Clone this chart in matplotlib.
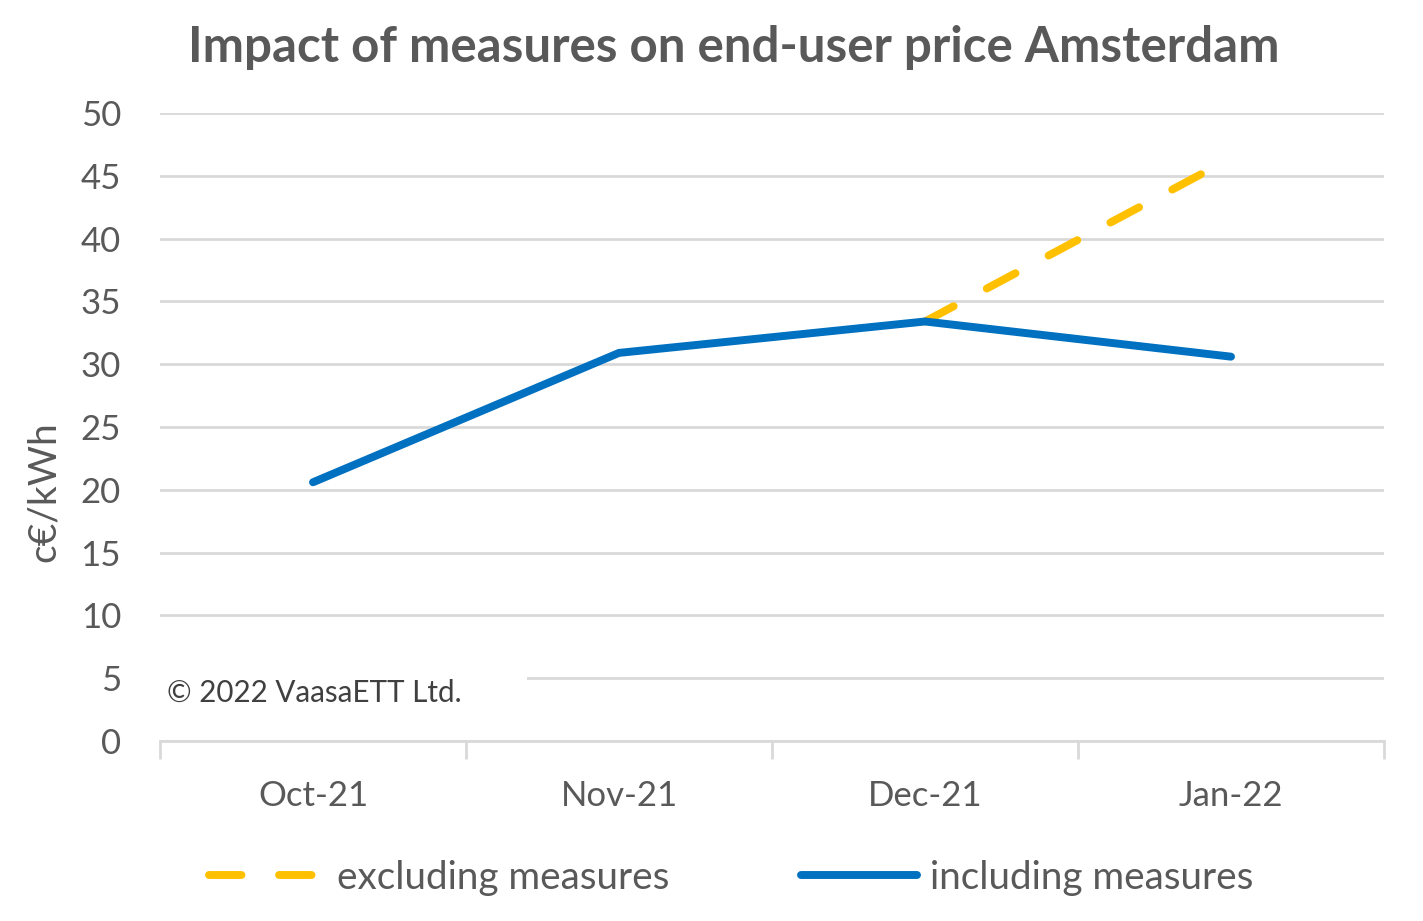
import matplotlib
matplotlib.use("Agg")
import matplotlib.pyplot as plt
from matplotlib.patches import Rectangle
from matplotlib.lines import Line2D

months = ["Oct-21", "Nov-21", "Dec-21", "Jan-22"]
including = [20.6, 30.9, 33.4, 30.6]
excluding = [None, None, 33.4, 46.4]
yticks = [0, 5, 10, 15, 20, 25, 30, 35, 40, 45, 50]

plt.rcParams['font.family'] = ['Lato', 'DejaVu Sans']
TXT = '#595959'
GRID = '#d9d9d9'
BLUE = '#0070c0'
YEL = '#ffc000'
LW = 5.7
DASH = (4.1, 4.75)

W, H = 1423, 921
fig = plt.figure(figsize=(W / 100, H / 100), dpi=100)
ax = fig.add_axes([160 / W, (H - 741) / H, 1224 / W, 628 / H])

x = list(range(len(months)))
ex = [float('nan') if v is None else v for v in excluding]
ax.plot(x, ex, color=YEL, lw=LW, dashes=DASH, dash_capstyle='round',
        solid_capstyle='round', zorder=3, label='excluding measures')
ax.plot(x, including, color=BLUE, lw=LW, solid_capstyle='round',
        solid_joinstyle='round', zorder=4, label='including measures')

ax.set_xlim(-0.5, 3.5)
ax.set_ylim(0, 50)
ax.set_yticks(yticks)
ax.set_yticklabels([str(v) for v in yticks])
ax.set_xticks(x)
ax.set_xticklabels(months)
ax.set_xticks([-0.5, 0.5, 1.5, 2.5, 3.5], minor=True)
ax.tick_params(axis='x', which='major', length=0, pad=28, labelsize=25, labelcolor=TXT)
ax.tick_params(axis='x', which='minor', length=13, width=2, color=GRID, direction='out')
ax.tick_params(axis='y', length=0, pad=28, labelsize=25, labelcolor=TXT)

ax.grid(axis='y', color=GRID, lw=2, zorder=0)
ax.set_axisbelow(True)
for s in ['top', 'right', 'left']:
    ax.spines[s].set_visible(False)
ax.spines['bottom'].set_color(GRID)
ax.spines['bottom'].set_linewidth(2)

fig.text(44 / W, 1 - 492 / H, 'c€/kWh', rotation=90, fontsize=28, color=TXT,
         ha='center', va='center')

# white box behind copyright notice
ax.add_patch(Rectangle((0, 2.0), (527 - 160) / 1224, 6.0, transform=ax.get_yaxis_transform(),
                       facecolor='white', edgecolor='none', zorder=1, clip_on=False))
ax.text((167 - 160) / 1224, (741 - 693) / 628, '© 2022 VaasaETT Ltd.', transform=ax.transAxes,
        fontsize=21.3, color='#404040', ha='left', va='center', zorder=2)

fig.text(734 / W, 1 - 47 / H, 'Impact of measures on end-user price Amsterdam',
         fontsize=35.5, fontweight='bold', color=TXT, ha='center', va='center')

handles = [Line2D([], [], color=YEL, lw=LW, dashes=DASH, dash_capstyle='round'),
           Line2D([], [], color=BLUE, lw=LW, solid_capstyle='round')]
fig.legend(handles, ['excluding measures', 'including measures'], loc='center',
           bbox_to_anchor=(731 / W, 1 - 878 / H), ncol=2, frameon=False, fontsize=27.8,
           labelcolor=TXT, handlelength=3.0, handletextpad=0.34, columnspacing=3.4,
           borderpad=0, borderaxespad=0)

fig.savefig('out.png', dpi=100, facecolor='white')
